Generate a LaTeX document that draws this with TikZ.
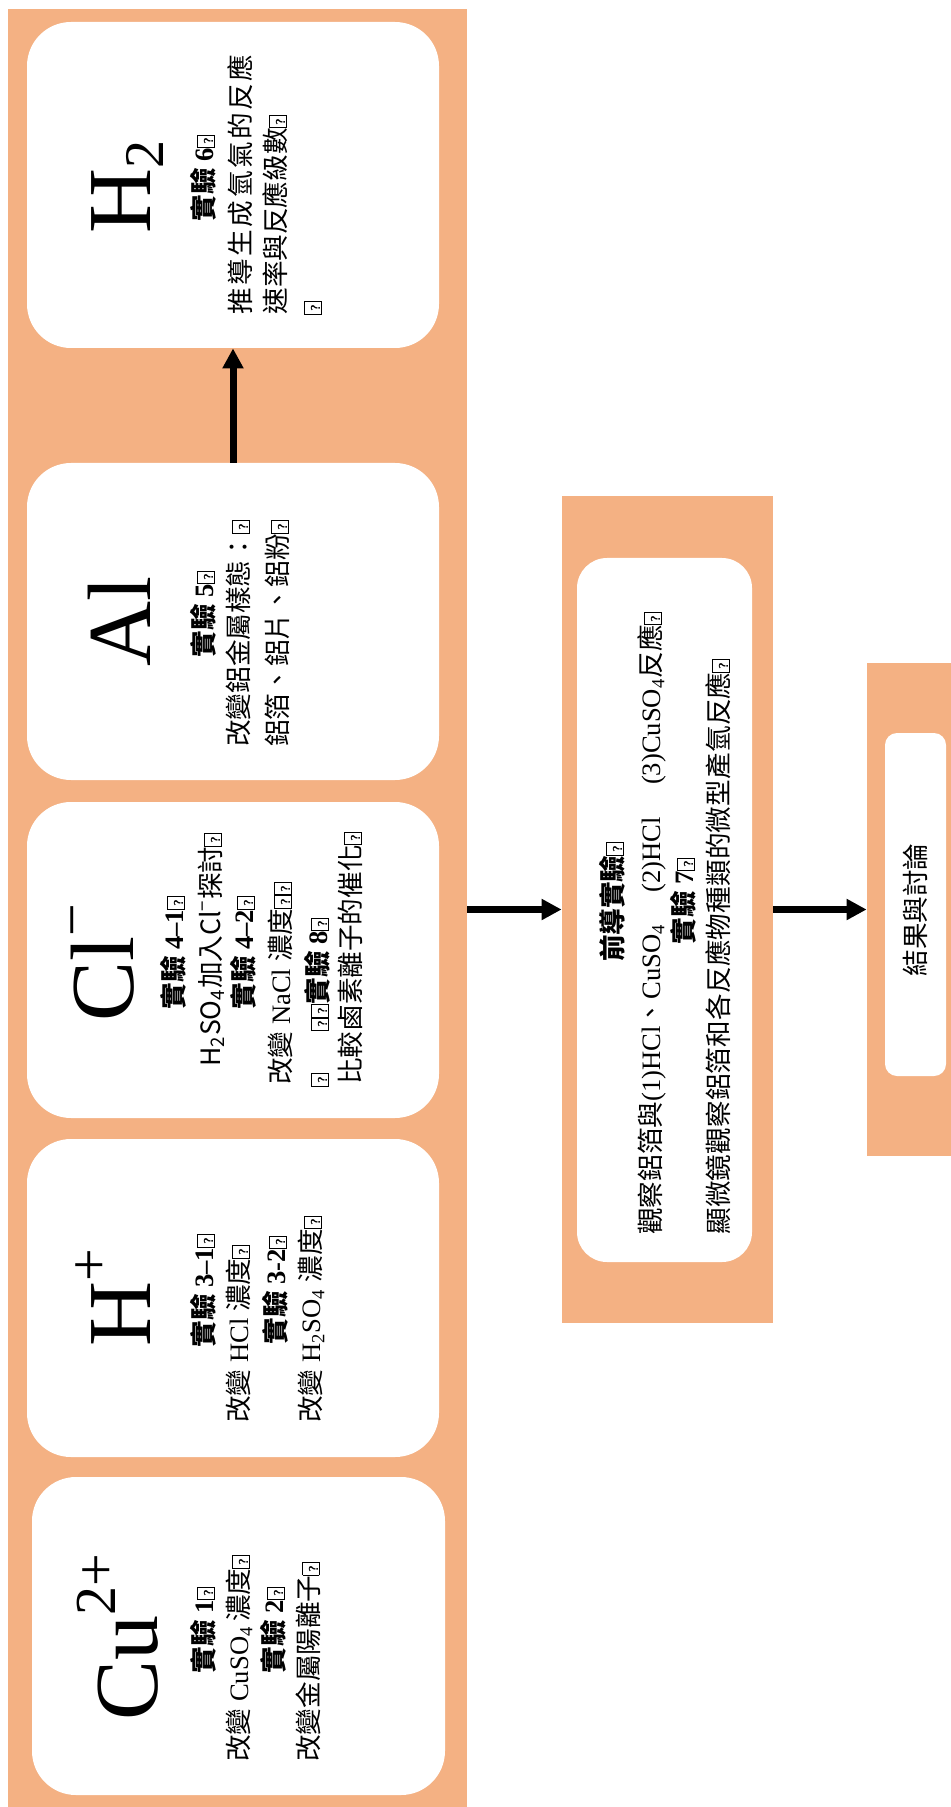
\documentclass[tikz,border=0pt]{standalone}
\usepackage{fontspec}
\setmainfont{Liberation Serif}
\newfontfamily\cjk{Noto Sans CJK TC}
\usetikzlibrary{arrows.meta}
\definecolor{panel}{HTML}{F4B183}
\newcommand\C[1]{{\cjk #1}}
\newcommand\B[1]{{\cjk\bfseries #1}}
\newcommand\tofu{{\setlength\fboxsep{0.5pt}\setlength\fboxrule{0.45pt}\fbox{\rule{0pt}{7pt}\makebox[4.8pt]{\fontsize{6.5}{6.5}\selectfont\sffamily\bfseries ?}}}}
\newcommand\bigsupr[1]{\raisebox{21pt}{\fontsize{29}{30}\selectfont #1}}
\newcommand\bigsubr[1]{\raisebox{-6.5pt}{\fontsize{28}{30}\selectfont #1}}
\begin{document}
\begin{tikzpicture}[x=0.5pt,y=-0.5pt,
  pnl/.style={rectangle, fill=panel, draw=none, inner sep=0pt},
  wbox/.style={rectangle, fill=white, draw=none, inner sep=0pt, rounded corners=22pt},
  txt/.style={rotate=90, inner sep=0pt, font=\fontsize{13.3}{16}\selectfont},
  ttl/.style={rotate=90, inner sep=0pt, anchor=base, font=\fontsize{45}{50}\selectfont},
  arr/.style={line width=3.5pt, -{Triangle[length=10pt,width=10pt]}}]
\useasboundingbox (0,0) rectangle (951,1807);
% panels
\node[pnl, minimum width=229.5pt, minimum height=899pt] (left) at (237.5,908) {};
\node[pnl, minimum width=105.5pt, minimum height=413.5pt] (mid) at (667.5,909.5) {};
\node[pnl, minimum width=42pt, minimum height=246.5pt] (right) at (909,909.5) {};
% white boxes
\node[wbox, minimum width=206pt, minimum height=163pt] (h2) at (233,185) {};
\node[wbox, minimum width=206pt, minimum height=158.5pt] (al) at (233,621.5) {};
\node[wbox, minimum width=206pt, minimum height=158pt] (cl) at (233,960) {};
\node[wbox, minimum width=206pt, minimum height=159pt] (hp) at (233,1298) {};
\node[wbox, minimum width=206.5pt, minimum height=159pt] (cu) at (238.5,1636) {};
\node[wbox, rounded corners=15pt, minimum width=87.5pt, minimum height=352pt] (midbox) at (664.5,910) {};
\node[wbox, rounded corners=6pt, minimum width=30.5pt, minimum height=171.5pt] (rbox) at (915.5,904.5) {};
% arrows
\draw[arr] (al.north) -- (h2.south);
\draw[arr] (mid.west -| left.east) -- (mid.west);
\draw[arr] (right.west -| mid.east) -- (right.west);
% Cu box
\node[ttl] (cuT) at (157,1637) {Cu\bigsupr{2+}};
\node[txt, anchor=base] (cu1) at (213,1630) {\B{實驗} \textbf{1}\tofu};
\node[txt, anchor=base west] (cu2) at (248,1762) {\C{改變} CuSO\textsubscript{4}\,\C{濃度}\tofu};
\node[txt, anchor=base] (cu3) at (283,1630) {\B{實驗} \textbf{2}\tofu};
\node[txt, anchor=base west] (cu4) at (318,1762) {\C{改變金屬陽離子}\tofu};
% H+ box
\node[ttl] (hpT) at (150,1298) {H\bigsupr{+}};
\node[txt, anchor=base] (hp1) at (213,1291) {\B{實驗} \textbf{3--1}\tofu};
\node[txt, anchor=base west] (hp2) at (248,1423) {\C{改變} HCl \C{濃度}\tofu};
\node[txt, anchor=base] (hp3) at (285,1290) {\B{實驗} \textbf{3-2}\tofu};
\node[txt, anchor=base west] (hp4) at (320,1423) {\C{改變} H\textsubscript{2}SO\textsubscript{4} \C{濃度}\tofu};
% Cl box
\node[ttl] (clT) at (133,963) {Cl\bigsupr{−}};
\node[txt, anchor=base] (cl1) at (183,953) {\B{實驗} \textbf{4--1}\tofu};
\node[txt, anchor=base west] (cl2) at (220,1067) {{\cjk H\textsubscript{2}SO\textsubscript{4}加入Cl\textsuperscript{−}探討}\tofu};
\node[txt, anchor=base] (cl3) at (253,953) {\B{實驗} \textbf{4--2}\tofu};
\node[txt, anchor=base west] (cl4) at (290,1085) {\C{改變} NaCl \C{濃度}\tofu\tofu};
\node[txt, anchor=base west] (cl5) at (327,1087) {\tofu\hspace{21pt}\tofu\tofu\B{實驗} \textbf{8}\tofu};
\node[txt, anchor=base west] (cl6) at (360,1085) {\C{比較鹵素離子的催化}\tofu};
% Al box
\node[ttl] (alT) at (150,621) {Al};
\node[txt, anchor=base] (al1) at (213,614) {\B{實驗} \textbf{5}\tofu};
\node[txt, anchor=base west] (al2) at (248,747) {\C{改變鋁金屬樣態：}\tofu};
\node[txt, anchor=base west] (al3) at (287,747) {\C{鋁箔、鋁片、鋁粉}\tofu};
% H2 box
\node[ttl] (h2T) at (150,187) {H\bigsubr{2}};
\node[txt, anchor=base] (h21) at (213,178) {\B{實驗} \textbf{6}\tofu};
\node[txt, anchor=base west] (h22) at (250,315) {\cjk\makebox[130pt][s]{推\hfil 導\hfil 生\hfil 成\hfil 氫\hfil 氣\hfil 的\hfil 反\hfil 應}};
\node[txt, anchor=base west] (h23) at (285,315) {\C{速率與反應級數}\tofu};
\node[txt, anchor=base west] (h24) at (320,315) {\tofu};
% middle box
\node[txt, anchor=base] (m1) at (622,902) {\B{前導實驗}\tofu};
\node[txt, anchor=base west] (m2) at (660,1235) {\C{觀察鋁箔與}(1)HCl\C{、}CuSO\textsubscript{4}\hspace{16pt}(2)HCl\hspace{16pt}(3)CuSO\textsubscript{4}\C{反應}\tofu};
\node[txt, anchor=base] (m3) at (693,901) {\B{實驗} \textbf{7}\tofu};
\node[txt, anchor=base west] (m4) at (728,1235) {\cjk\makebox[281pt][s]{顯\hfil 微\hfil 鏡\hfil 觀\hfil 察\hfil 鋁\hfil 箔\hfil 和\hfil 各\hfil 反\hfil 應\hfil 物\hfil 種\hfil 類\hfil 的\hfil 微\hfil 型\hfil 產\hfil 氫\hfil 反\hfil 應}\tofu};
% right box
\node[txt, anchor=base] (r1) at (925,910) {\C{結果與討論}};
\end{tikzpicture}
\end{document}
